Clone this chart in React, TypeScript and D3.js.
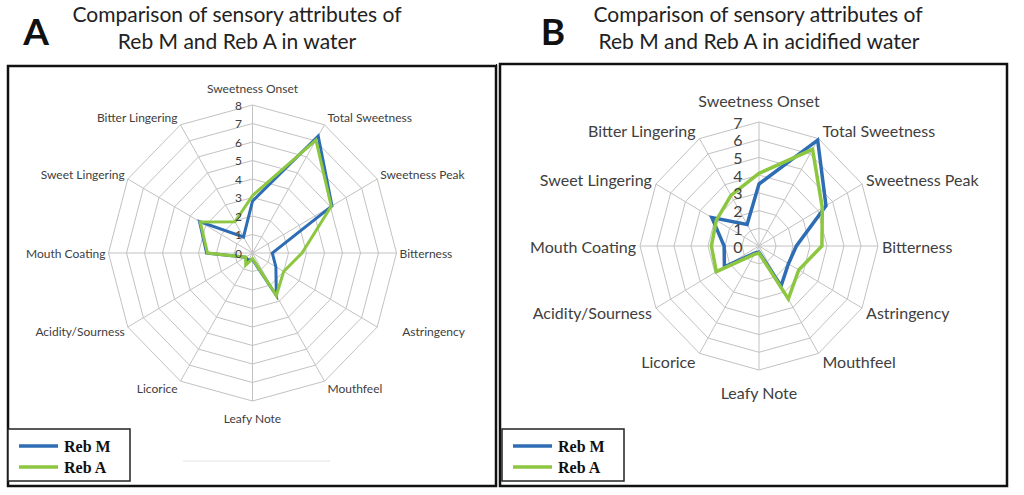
import React from "react";
import * as d3 from "d3";

const attributes = [
  "Sweetness Onset", "Total Sweetness", "Sweetness Peak", "Bitterness",
  "Astringency", "Mouthfeel", "Leafy Note", "Licorice",
  "Acidity/Sourness", "Mouth Coating", "Sweet Lingering", "Bitter Lingering",
];

const rebMWater = [2.8, 7.3, 5.1, 1.1, 1.5, 2.65, 0.35, 0.45, 0.45, 2.55, 3.4, 1.0];
const rebAWater = [3.1, 7.05, 5.05, 2.75, 2.0, 2.65, 0.3, 0.75, 0.45, 2.5, 3.35, 1.95];

const rebMAcid = [3.5, 6.9, 4.55, 2.2, 2.0, 2.6, 0.35, 0.45, 2.35, 2.05, 3.2, 1.4];
const rebAAcid = [4.1, 6.3, 4.3, 3.7, 2.7, 3.45, 0.4, 0.55, 2.9, 2.8, 2.9, 3.3];

const ticksWater = [0, 1, 2, 3, 4, 5, 6, 7, 8];
const ticksAcid = [0, 1, 2, 3, 4, 5, 6, 7];

const seriesNames = ["Reb M", "Reb A"];
const seriesColors = ["#2E6DB4", "#8DC641"];

type PanelProps = {
  cx: number; cy: number; rx: number; ry: number;
  ticks: number[]; seriesData: number[][]; fontSize: number;
  tickOffset: number; lineWidth: number; labelGap: number; vGap: number;
  extraGap?: Record<number, number>;
};

function Radar({ cx, cy, rx, ry, ticks, seriesData, fontSize, tickOffset, lineWidth, labelGap, vGap, extraGap = {} }: PanelProps) {
  const max = d3.max(ticks) as number;
  const sx = d3.scaleLinear().domain([0, max]).range([0, rx]);
  const sy = d3.scaleLinear().domain([0, max]).range([0, ry]);
  const angle = d3.scaleLinear().domain([0, attributes.length]).range([0, 2 * Math.PI]);
  const pt = (i: number, v: number): [number, number] => {
    const a = angle(i);
    return [cx + sx(v) * Math.sin(a), cy - sy(v) * Math.cos(a)];
  };
  const ring = d3.line<[number, number]>().curve(d3.curveLinearClosed);
  return (
    <g>
      {ticks.slice(1).map((t) => (
        <path key={"r" + t} d={ring(attributes.map((_, i) => pt(i, t))) || ""} fill="none" stroke="#c2c2c2" strokeWidth={1} />
      ))}
      {attributes.map((_, i) => {
        const [x, y] = pt(i, max);
        return <line key={"s" + i} x1={cx} y1={cy} x2={x} y2={y} stroke="#c2c2c2" strokeWidth={1} />;
      })}
      {seriesData.map((vals, si) => (
        <path key={"p" + si} d={ring(vals.map((v, i) => pt(i, v))) || ""} fill="none" stroke={seriesColors[si]} strokeWidth={lineWidth} strokeLinejoin="miter" />
      ))}
      {ticks.map((t) => (
        <text key={"t" + t} x={cx - tickOffset} y={cy - sy(t)} fontSize={fontSize} fill="#404040" textAnchor="middle" dominantBaseline="central" fontFamily="Lato">{t}</text>
      ))}
      {attributes.map((name, i) => {
        const a = angle(i);
        const [vx, vy] = pt(i, max);
        const s = Math.sin(a);
        const c = Math.cos(a);
        let anchor: "start" | "end" | "middle" = "middle";
        let x = vx;
        let y = vy;
        if (Math.abs(s) < 0.01) {
          y = vy - Math.sign(c) * vGap;
        } else {
          anchor = s > 0 ? "start" : "end";
          x = vx + Math.sign(s) * (labelGap + (extraGap[i] || 0));
          y = vy - c * 9;
        }
        return (
          <text key={"l" + i} x={x} y={y} fontSize={fontSize} fill="#404040" textAnchor={anchor} dominantBaseline="central" fontFamily="Lato">{name}</text>
        );
      })}
    </g>
  );
}

function Legend({ x, y }: { x: number; y: number }) {
  return (
    <g>
      <rect x={x} y={y} width={122} height={52} fill="white" stroke="#222" strokeWidth={1.5} />
      {seriesNames.map((n, i) => (
        <g key={n}>
          <line x1={x + 11} x2={x + 50} y1={y + 17 + i * 21} y2={y + 17 + i * 21} stroke={seriesColors[i]} strokeWidth={3.5} />
          <text x={x + 56} y={y + 17 + i * 21} dominantBaseline="central" fontFamily="Liberation Serif" fontWeight="bold" fontSize={16} fill="#111">{n}</text>
        </g>
      ))}
    </g>
  );
}

export default function App() {
  return (
    <svg width={1024} height={495} style={{ position: "absolute", left: 0, top: 0, background: "white" }}>
      <rect x={0} y={0} width={1024} height={495} fill="white" />
      {/* Panel A */}
      <text x={36} y={30} fontFamily="Lato" fontWeight="bold" fontSize={37} textAnchor="middle" dominantBaseline="central" fill="#111">A</text>
      <text x={237} y={22} fontFamily="Lato" fontSize={21} textAnchor="middle" fill="#222">Comparison of sensory attributes of</text>
      <text x={237} y={49} fontFamily="Lato" fontSize={21} textAnchor="middle" fill="#222">Reb M and Reb A in water</text>
      <rect x={8} y={66} width={488} height={420} fill="white" stroke="#111" strokeWidth={2.5} />
      <Radar cx={252.5} cy={253} rx={144} ry={148} ticks={ticksWater} seriesData={[rebMWater, rebAWater]} fontSize={12} tickOffset={14} lineWidth={3} labelGap={3} vGap={17} extraGap={{ 4: 22 }} />
      <line x1={183} x2={330} y1={461} y2={461} stroke="#ececec" strokeWidth={1.5} />
      <Legend x={8} y={429} />
      {/* Panel B */}
      <text x={553} y={30} fontFamily="Lato" fontWeight="bold" fontSize={37} textAnchor="middle" dominantBaseline="central" fill="#111">B</text>
      <text x={758} y={22} fontFamily="Lato" fontSize={21} textAnchor="middle" fill="#222">Comparison of sensory attributes of</text>
      <text x={759} y={49} fontFamily="Lato" fontSize={21} textAnchor="middle" fill="#222">Reb M and Reb A in acidified water</text>
      <rect x={500} y={64} width={507} height={422} fill="white" stroke="#111" strokeWidth={2.5} />
      <line x1={496.5} x2={496.5} y1={64} y2={486} stroke="#111" strokeWidth={1} />
      <Radar cx={759} cy={246} rx={119} ry={124} ticks={ticksAcid} seriesData={[rebMAcid, rebAAcid]} fontSize={16} tickOffset={21} lineWidth={3.5} labelGap={4} vGap={22} />
      <Legend x={502} y={429} />
    </svg>
  );
}
